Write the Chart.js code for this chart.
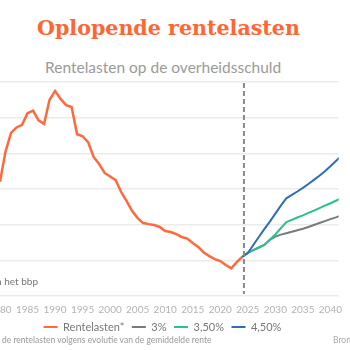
<!DOCTYPE html>
<html>
<head>
<meta charset="utf-8">
<script src="https://cdn.jsdelivr.net/npm/chart.js@4.4.0/dist/chart.umd.min.js"></script>
<style>
  html, body { margin: 0; padding: 0; background: #fff; }
  #frame { position: relative; width: 350px; height: 350px; overflow: hidden; background: #fff; }
  #title { position: absolute; left: 37px; top: 16px; margin: 0; white-space: nowrap;
           font: bold 20.6px "DejaVu Serif", serif; color: #ff6633; }
  #subtitle { position: absolute; left: 45px; top: 58px; margin: 0; white-space: nowrap;
              font: 15.5px Lato, sans-serif; color: #9a9a9a; }
  #unit { position: absolute; right: 312px; top: 275px; white-space: nowrap;
          font: 10px Lato, sans-serif; color: #777; }
  #note { position: absolute; left: 2px; top: 335px; white-space: nowrap;
          font: 8.5px Lato, sans-serif; color: #999; }
  #source { position: absolute; left: 333px; top: 335px; white-space: nowrap;
            font: 8.5px Lato, sans-serif; color: #aaa; }
  #box { position: absolute; left: -25px; top: 70px; width: 375px; height: 280px; }
</style>
</head>
<body>
<div id="frame">
  <h1 id="title">Oplopende rentelasten</h1>
  <div id="subtitle">Rentelasten op de overheidsschuld</div>
  <div id="box"><canvas id="chart"></canvas></div>
  <div id="unit">in % van het bbp</div>
  <div id="note">de rentelasten volgens evolutie van de gemiddelde rente</div>
  <div id="source">Bron:</div>
</div>
<script>
// ─── Data ────────────────────────────────────────────────────
const firstYear = 1980;
const rentelasten = [
  6.4, 8.1, 9.15, 9.45, 9.6, 10.25, 10.4, 9.85, 9.65, 11.0,
  11.5, 11.05, 10.7, 10.6, 9.07, 8.96, 8.63, 7.8, 7.4, 6.9,
  6.7, 6.5, 5.83, 5.32, 4.76, 4.37, 4.09, 4.03, 3.98, 3.87,
  3.64, 3.59, 3.47, 3.31, 3.22, 2.97, 2.75, 2.44, 2.24, 2.07,
  1.96, 1.74, 1.55, 1.9, 2.2
];

const projStart = 2024;
const rente3 = [
  2.2, 2.42, 2.57, 2.72, 2.86, 3.15, 3.33, 3.44, 3.52, 3.6,
  3.69, 3.77, 3.87, 3.98, 4.09, 4.2, 4.31, 4.41, 4.52
];
const rente350 = [
  2.2, 2.42, 2.57, 2.72, 2.86, 3.15, 3.45, 3.8, 4.14, 4.27,
  4.4, 4.52, 4.66, 4.79, 4.93, 5.07, 5.2, 5.34, 5.48
];
const rente450 = [
  2.2, 2.41, 2.86, 3.31, 3.75, 4.17, 4.62, 5.07, 5.48, 5.67,
  5.86, 6.06, 6.28, 6.51, 6.74, 7.0, 7.28, 7.57, 7.86
];

const xTicks = [1980, 1985, 1990, 1995, 2000, 2005, 2010, 2015, 2020, 2025, 2030, 2035, 2040];
const yTicks = [0, 2, 4, 6, 8, 10, 12];
const splitYear = 2024.3;

const labels = ['Rentelasten*', '3%', '3,50%', '4,50%'];
const colors = ['#ff6a3d', '#7a7a7a', '#2dbf8c', '#2f6db5'];

// ─── Helpers ─────────────────────────────────────────────────
const toPoints = (start, vals) => vals.map((v, i) => ({ x: start + i, y: v }));

// vertical dashed line where the projection starts
const splitLine = {
  id: 'splitLine',
  afterDatasetsDraw(chart) {
    const { ctx, chartArea, scales } = chart;
    const x = scales.x.getPixelForValue(splitYear);
    ctx.save();
    ctx.strokeStyle = '#8a8a8a';
    ctx.lineWidth = 2;
    ctx.setLineDash([5, 3]);
    ctx.beginPath();
    ctx.moveTo(x, chartArea.top + 1);
    ctx.lineTo(x, chartArea.bottom - 2);
    ctx.stroke();
    ctx.restore();
  }
};

Chart.defaults.font.family = 'Lato, sans-serif';

new Chart(document.getElementById('chart'), {
  type: 'line',
  data: {
    datasets: [
      { label: labels[0], data: toPoints(firstYear, rentelasten), borderWidth: 2.5 },
      { label: labels[1], data: toPoints(projStart, rente3), borderWidth: 2 },
      { label: labels[2], data: toPoints(projStart, rente350), borderWidth: 2 },
      { label: labels[3], data: toPoints(projStart, rente450), borderWidth: 2 },
    ].map((d, i) => ({
      ...d,
      borderColor: colors[i],
      backgroundColor: colors[i],
      pointRadius: 0,
      tension: 0,
      order: i === 0 ? 4 : 4 - i,
    }))
  },
  options: {
    responsive: true,
    maintainAspectRatio: false,
    animation: false,
    layout: { padding: { top: 12, bottom: 7.5, left: 0, right: 0 } },
    scales: {
      x: {
        type: 'linear',
        min: 1980,
        max: 2041.5,
        grid: { display: false, drawTicks: false },
        border: { display: false },
        afterBuildTicks: s => { s.ticks = xTicks.map(v => ({ value: v })); },
        afterFit: s => { s.height = 18; },
        ticks: {
          color: '#b3b3b3',
          font: { size: 10 },
          padding: 8,
          maxRotation: 0,
          callback: v => String(v),
        }
      },
      y: {
        min: 0,
        max: 12,
        afterBuildTicks: s => { s.ticks = yTicks.map(v => ({ value: v })); },
        afterFit: s => { s.width = 25; },
        grid: { color: '#ebebeb', lineWidth: 1.5, drawTicks: false },
        border: { display: false },
        ticks: { color: '#b3b3b3', font: { size: 10 }, padding: 6 }
      }
    },
    plugins: {
      legend: {
        position: 'bottom',
        labels: {
          color: '#777',
          font: { size: 11 },
          boxWidth: 14,
          boxHeight: 2,
          padding: 7.5,
          generateLabels: chart => chart.data.datasets.map((d, i) => ({
            text: d.label,
            fillStyle: colors[i],
            strokeStyle: colors[i],
            lineWidth: 0,
            fontColor: '#777',
            datasetIndex: i,
          }))
        }
      },
      tooltip: { enabled: false }
    }
  },
  plugins: [splitLine]
});
</script>
</body>
</html>
